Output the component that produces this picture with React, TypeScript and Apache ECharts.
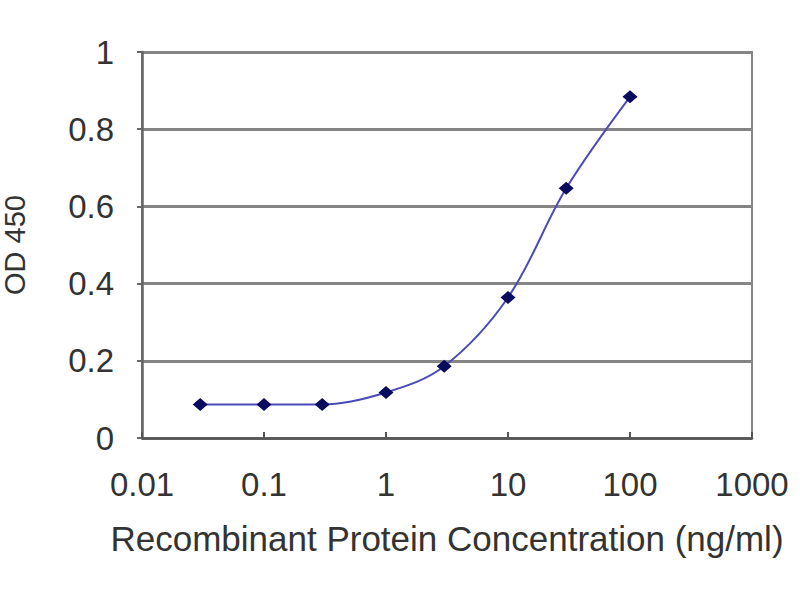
import React, { useEffect, useRef } from "react";
import * as echarts from "echarts";

const concentrations = [0.03, 0.1, 0.3, 1, 3, 10, 30, 100];
const odValues = [0.087, 0.087, 0.087, 0.118, 0.186, 0.364, 0.647, 0.884];
const xTitle = "Recombinant Protein Concentration (ng/ml)";
const yTitle = "OD 450";

export default function App() {
  const ref = useRef<HTMLDivElement>(null);
  useEffect(() => {
    if (!ref.current) return;
    const chart = echarts.init(ref.current, undefined, { renderer: "svg" });
    const font = "'Liberation Sans', Arial, sans-serif";
    chart.setOption({
      animation: false,
      backgroundColor: "#ffffff",
      grid: {
        left: 142,
        right: 48,
        top: 52,
        bottom: 162,
        outerBoundsMode: "none",
        containLabel: false,
        show: true,
        borderColor: "#858585",
        borderWidth: 2,
        backgroundColor: "#ffffff",
      },
      xAxis: {
        type: "log",
        logBase: 10,
        min: 0.01,
        max: 1000,
        name: xTitle,
        nameLocation: "middle",
        nameGap: 83,
        nameTextStyle: { fontFamily: font, fontSize: 35, color: "#333333" },
        axisLine: { show: true, lineStyle: { color: "#555555", width: 2.5 } },
        axisTick: { show: true, inside: true, length: 6, lineStyle: { color: "#555555", width: 2 } },
        minorTick: { show: false },
        splitLine: { show: false },
        axisLabel: {
          fontFamily: font,
          fontSize: 33,
          color: "#333333",
          margin: 30,
          formatter: (v: number) => String(+v.toPrecision(6)),
        },
      },
      yAxis: {
        type: "value",
        min: 0,
        max: 1,
        interval: 0.2,
        name: yTitle,
        nameLocation: "middle",
        nameGap: 113,
        nameTextStyle: { fontFamily: font, fontSize: 29, color: "#333333" },
        axisLine: { show: true, lineStyle: { color: "#666666", width: 2.5 } },
        axisTick: { show: true, inside: false, length: 5, lineStyle: { color: "#666666", width: 2 } },
        splitLine: { show: true, lineStyle: { color: "#858585", width: 2.8 } },
        axisLabel: {
          fontFamily: font,
          fontSize: 33,
          color: "#333333",
          margin: 28,
          formatter: (v: number) => String(+v.toFixed(2)),
        },
      },
      series: [
        {
          type: "line",
          data: concentrations.map((c, i) => [c, odValues[i]]),
          smooth: 0.35,
          symbol: "diamond",
          symbolSize: [15, 13],
          lineStyle: { color: "#4a4ab8", width: 2 },
          itemStyle: { color: "#0a0a5e", borderWidth: 0 },
        },
      ],
    });
    return () => chart.dispose();
  }, []);
  return (
    <div
      ref={ref}
      style={{ position: "fixed", left: 0, top: 0, width: 800, height: 600 }}
    />
  );
}
